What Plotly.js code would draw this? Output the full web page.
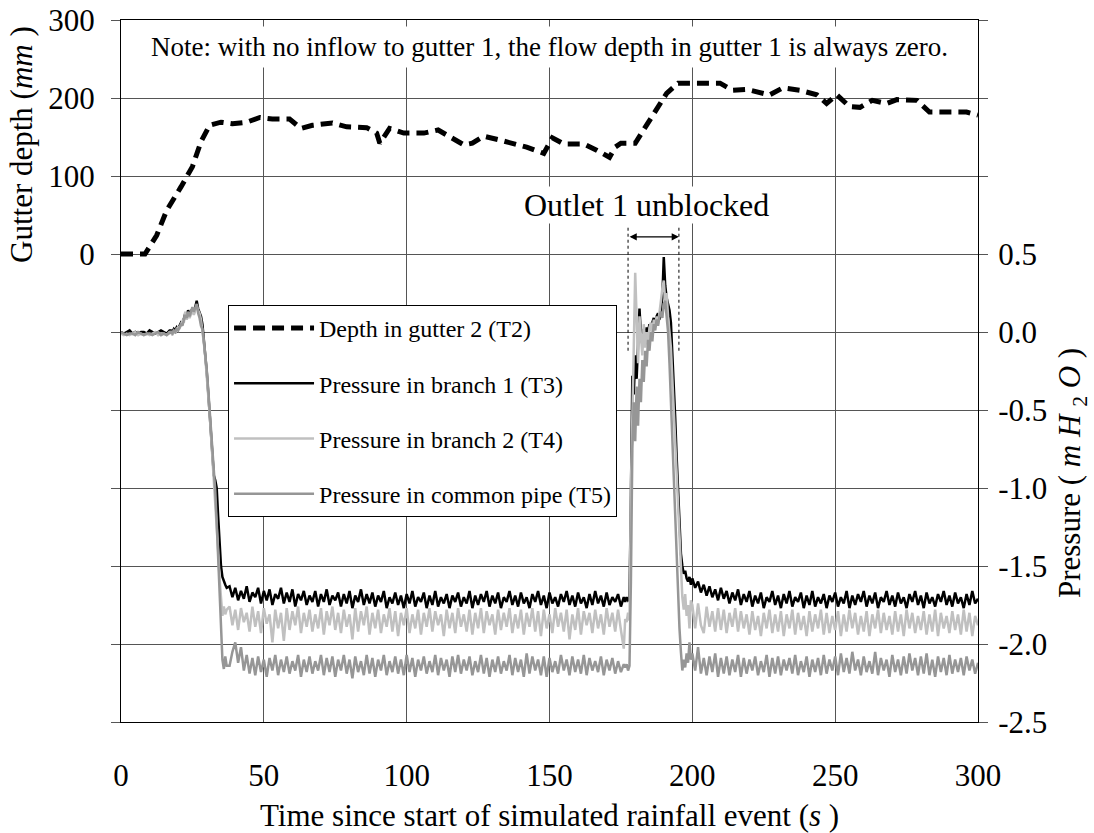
<!DOCTYPE html>
<html>
<head>
<meta charset="utf-8">
<script src="https://cdn.plot.ly/plotly-3.0.1.min.js"></script>
<style>
  html, body { margin: 0; padding: 0; background: #ffffff; }
  #chart { width: 1094px; height: 833px; }
</style>
</head>
<body>
<div id="chart"></div>
<script>
// ---------------- DATA ----------------
// Depth in gutter 2 (T2), mm
const depthTime = [0,8.4,12.5,16,21,25,28,31,35,39,44,48.6,53,59,63,67,74,79,86,89.5,
  90.6,94,99,106,111,115,120,123,127,132.7,137,142,148,151,155,162,166.5,171,173,175,
  180,183.5,187.5,191,195,200,209.7,214,219,227,231.7,237.6,243.6,247,250.6,255,258.7,263,268,271.6,
  278.6,283,289,296,300];
const depthT2 = [0,0,24,56,86,112,144,165,169,167,169,175,173,173,161,165,168,163,162,155,
  142,161,155,155,159,150,140,142,151,146,142,137,129,149,141,141,133,124,137,142,
  142,163,185,206,219,219,219,210,211,204,213,210,204,193,204,189,188,197,193,198,
  197,182,182,182,178];

// Time of pressure readings, s
const pressTime = [
  0,1,2,3,4,5,6,7,8,9,10,11,12,13,14,15,16,17,
  17.5,18,18.5,19,19.5,20,20.5,21,21.5,22,22.5,23,23.5,24,24.5,25,25.5,26,26.5,27,
  27.5,28,28.5,29,29.5,30,30.5,31,31.5,32,32.5,33,33.5,34,34.5,35,35.5,36,36.5,37,
  38,39,40,41,42,43,44,45,46,47,
  48,49,50,51,52,53,54,55,56,57,
  58,59,60,61,62,63,64,65,66,67,
  68,69,70,71,72,73,74,75,76,77,
  78,79,80,81,82,83,84,85,86,87,
  88,89,90,91,92,93,94,95,96,97,
  98,99,100,101,102,103,104,105,106,107,
  108,109,110,111,112,113,114,115,116,117,
  118,119,120,121,122,123,124,125,126,127,
  128,129,130,131,132,133,134,135,136,137,
  138,139,140,141,142,143,144,145,146,147,
  148,149,150,151,152,153,154,155,156,157,
  158,159,160,161,162,163,164,165,166,167,
  168,169,170,171,172,173,174,175,176,
  176.5,177,177.5,178,178.5,179,179.5,180,180.5,181,181.5,182,182.5,183,183.5,184,
  184.5,185,185.5,186,186.5,187,187.5,188,188.5,189,189.5,190,190.5,191,191.5,192,
  192.5,193,193.5,194,194.5,195,195.5,196,196.5,197,197.5,198,198.5,199,199.5,
  200,201,202,203,204,205,206,207,208,209,
  210,211,212,213,214,215,216,217,218,219,
  220,221,222,223,224,225,226,227,228,229,
  230,231,232,233,234,235,236,237,238,239,
  240,241,242,243,244,245,246,247,248,249,
  250,251,252,253,254,255,256,257,258,259,
  260,261,262,263,264,265,266,267,268,269,
  270,271,272,273,274,275,276,277,278,279,
  280,281,282,283,284,285,286,287,288,289,
  290,291,292,293,294,295,296,297,298,299,
  300];

// Pressure in branch 1 (T3), m H2O
const pressT3 = [
  0.00,-0.01,0.00,0.01,-0.01,0.00,-0.01,0.00,0.00,-0.01,0.01,0.00,-0.01,0.00,0.01,0.00,-0.01,0.01,
  0.01,0.00,0.02,0.01,0.03,0.02,0.04,0.06,0.05,0.09,0.12,0.10,0.14,0.11,0.13,0.15,0.12,0.17,0.20,0.15,
  0.13,0.10,0.05,-0.04,-0.12,-0.25,-0.38,-0.52,-0.66,-0.80,-0.92,-0.95,-1.00,-1.18,-1.38,-1.50,-1.57,-1.60,-1.62,-1.64,
  -1.63,-1.70,-1.64,-1.72,-1.66,-1.71,-1.63,-1.73,-1.67,-1.70,
  -1.64,-1.74,-1.66,-1.72,-1.65,-1.75,-1.68,-1.71,-1.64,-1.74,
  -1.67,-1.73,-1.65,-1.76,-1.68,-1.72,-1.66,-1.75,-1.69,-1.73,
  -1.66,-1.76,-1.68,-1.73,-1.65,-1.75,-1.69,-1.72,-1.67,-1.76,
  -1.68,-1.74,-1.66,-1.77,-1.69,-1.73,-1.65,-1.75,-1.68,-1.74,
  -1.67,-1.76,-1.69,-1.73,-1.66,-1.77,-1.70,-1.74,-1.67,-1.75,
  -1.69,-1.77,-1.68,-1.74,-1.66,-1.76,-1.70,-1.73,-1.67,-1.77,
  -1.69,-1.75,-1.66,-1.76,-1.70,-1.74,-1.68,-1.77,-1.69,-1.73,
  -1.67,-1.76,-1.70,-1.74,-1.66,-1.77,-1.69,-1.75,-1.68,-1.73,
  -1.66,-1.76,-1.69,-1.74,-1.67,-1.77,-1.70,-1.73,-1.66,-1.75,
  -1.69,-1.76,-1.67,-1.74,-1.70,-1.77,-1.68,-1.73,-1.66,-1.75,
  -1.69,-1.77,-1.67,-1.74,-1.70,-1.76,-1.68,-1.73,-1.66,-1.75,
  -1.69,-1.76,-1.67,-1.74,-1.70,-1.77,-1.68,-1.75,-1.66,-1.74,
  -1.69,-1.76,-1.67,-1.75,-1.70,-1.73,-1.68,-1.76,-1.70,
  -1.73,-1.70,-1.72,-1.71,-1.05,-0.28,-0.40,-0.15,-0.30,-0.05,0.15,-0.02,-0.08,0.02,-0.04,0.03,
  0.00,0.05,0.01,0.06,0.09,0.04,0.10,0.12,0.08,0.15,0.22,0.48,0.30,0.22,0.18,0.14,
  0.06,-0.12,-0.32,-0.55,-0.80,-1.05,-1.25,-1.42,-1.50,-1.55,-1.53,-1.58,-1.60,-1.57,-1.62,
  -1.58,-1.64,-1.60,-1.67,-1.62,-1.69,-1.63,-1.70,-1.65,-1.72,
  -1.64,-1.71,-1.66,-1.74,-1.67,-1.72,-1.65,-1.75,-1.68,-1.73,
  -1.66,-1.76,-1.69,-1.74,-1.67,-1.77,-1.70,-1.73,-1.66,-1.75,
  -1.69,-1.77,-1.68,-1.74,-1.66,-1.76,-1.70,-1.73,-1.67,-1.77,
  -1.69,-1.75,-1.66,-1.76,-1.70,-1.74,-1.68,-1.77,-1.69,-1.73,
  -1.67,-1.76,-1.70,-1.74,-1.66,-1.77,-1.69,-1.75,-1.68,-1.73,
  -1.66,-1.76,-1.69,-1.74,-1.67,-1.77,-1.70,-1.73,-1.66,-1.75,
  -1.69,-1.76,-1.67,-1.74,-1.70,-1.77,-1.68,-1.73,-1.66,-1.75,
  -1.69,-1.77,-1.67,-1.74,-1.70,-1.76,-1.68,-1.73,-1.66,-1.75,
  -1.69,-1.76,-1.67,-1.74,-1.70,-1.77,-1.68,-1.75,-1.66,-1.74,
  -1.71];

// Pressure in branch 2 (T4), m H2O
const pressT4 = [
  -0.01,-0.02,-0.01,-0.02,-0.01,0.00,-0.02,-0.01,-0.02,-0.01,-0.02,-0.01,0.00,-0.02,-0.01,-0.01,-0.02,0.00,
  0.00,-0.02,0.01,-0.01,0.02,0.03,0.02,0.05,0.07,0.06,0.13,0.08,0.11,0.09,0.12,0.14,0.11,0.15,0.17,0.14,
  0.12,0.08,0.02,-0.07,-0.16,-0.27,-0.39,-0.52,-0.66,-0.80,-0.94,-1.06,-1.22,-1.40,-1.58,-1.72,-1.82,-1.76,-1.81,-1.78,
  -1.76,-1.88,-1.78,-1.91,-1.77,-1.86,-1.80,-1.92,-1.76,-1.89,
  -1.79,-1.93,-1.77,-1.87,-1.81,-1.99,-1.78,-1.90,-1.80,-1.98,
  -1.77,-1.91,-1.79,-1.88,-1.76,-1.93,-1.80,-1.89,-1.78,-1.92,
  -1.81,-1.90,-1.77,-1.94,-1.79,-1.88,-1.76,-1.91,-1.80,-1.93,
  -1.78,-1.89,-1.81,-1.97,-1.77,-1.92,-1.79,-1.88,-1.76,-1.94,
  -1.80,-1.90,-1.78,-1.93,-1.81,-1.89,-1.77,-1.92,-1.79,-1.95,
  -1.80,-1.88,-1.77,-1.93,-1.81,-1.90,-1.78,-1.94,-1.80,-1.89,
  -1.77,-1.92,-1.79,-1.88,-1.81,-1.95,-1.78,-1.90,-1.80,-1.93,
  -1.77,-1.89,-1.81,-1.92,-1.78,-1.94,-1.80,-1.90,-1.77,-1.93,
  -1.79,-1.88,-1.81,-1.94,-1.78,-1.91,-1.80,-1.89,-1.77,-1.93,
  -1.81,-1.90,-1.78,-1.94,-1.80,-1.89,-1.77,-1.92,-1.79,-1.95,
  -1.78,-1.90,-1.81,-1.93,-1.77,-1.89,-1.80,-1.92,-1.78,-1.97,
  -1.81,-1.91,-1.77,-1.94,-1.79,-1.88,-1.80,-1.93,-1.78,-1.90,
  -1.81,-1.94,-1.77,-1.89,-1.80,-1.92,-1.78,-1.91,-2.03,
  -1.84,-1.86,-1.80,-1.85,-1.00,-0.40,-0.10,0.38,0.05,-0.20,0.10,-0.05,-0.15,0.05,-0.10,0.00,
  -0.08,0.03,0.06,-0.02,0.08,0.04,0.10,0.05,0.15,0.20,0.28,0.33,0.20,0.25,0.10,0.02,
  -0.10,-0.30,-0.50,-0.75,-1.00,-1.20,-1.40,-1.55,-1.70,-1.78,-1.68,-1.82,-1.75,-1.90,-1.72,
  -1.75,-1.90,-1.74,-1.88,-1.93,-1.76,-1.89,-1.79,-1.92,-1.77,
  -1.91,-1.78,-1.93,-1.80,-1.89,-1.77,-1.92,-1.79,-1.90,-1.81,
  -1.94,-1.79,-1.91,-1.82,-1.95,-1.80,-1.90,-1.78,-1.93,-1.81,
  -1.92,-1.79,-1.95,-1.81,-1.90,-1.78,-1.94,-1.80,-1.91,-1.82,
  -1.95,-1.79,-1.92,-1.81,-1.90,-1.78,-1.94,-1.80,-1.93,-1.82,
  -1.91,-1.79,-1.95,-1.81,-1.92,-1.78,-1.90,-1.80,-1.94,-1.82,
  -1.92,-1.79,-1.95,-1.81,-1.90,-1.78,-1.93,-1.80,-1.91,-1.82,
  -1.94,-1.79,-1.92,-1.81,-1.95,-1.78,-1.90,-1.80,-1.93,-1.82,
  -1.91,-1.79,-1.94,-1.81,-1.92,-1.78,-1.95,-1.80,-1.90,-1.82,
  -1.93,-1.79,-1.91,-1.81,-1.94,-1.78,-1.92,-1.80,-1.95,-1.82,
  -1.88];

// Pressure in common pipe (T5), m H2O
const pressT5 = [
  0.00,-0.01,-0.02,-0.01,-0.01,-0.02,0.00,-0.01,-0.02,-0.01,-0.01,-0.02,-0.01,0.00,-0.02,-0.01,-0.02,-0.01,
  0.00,-0.01,0.01,0.00,0.02,0.01,0.03,0.05,0.04,0.08,0.11,0.09,0.13,0.10,0.14,0.16,0.13,0.15,0.18,0.12,
  0.09,0.04,0.02,-0.06,-0.14,-0.24,-0.36,-0.48,-0.62,-0.76,-0.90,-1.02,-1.22,-1.45,-1.70,-1.95,-2.10,-2.16,-2.08,-2.14,
  -2.14,-2.05,-1.99,-2.12,-2.02,-2.17,-2.07,-2.19,-2.09,-2.20,
  -2.08,-2.18,-2.10,-2.21,-2.09,-2.17,-2.07,-2.20,-2.10,-2.18,
  -2.08,-2.19,-2.11,-2.17,-2.07,-2.21,-2.10,-2.18,-2.08,-2.19,
  -2.11,-2.17,-2.07,-2.20,-2.09,-2.18,-2.08,-2.21,-2.10,-2.17,
  -2.07,-2.19,-2.10,-2.22,-2.08,-2.18,-2.11,-2.20,-2.07,-2.19,
  -2.09,-2.21,-2.10,-2.17,-2.07,-2.20,-2.11,-2.18,-2.08,-2.19,
  -2.10,-2.20,-2.07,-2.18,-2.09,-2.21,-2.10,-2.17,-2.08,-2.19,
  -2.11,-2.18,-2.07,-2.20,-2.09,-2.17,-2.10,-2.21,-2.08,-2.18,
  -2.07,-2.19,-2.10,-2.17,-2.08,-2.20,-2.11,-2.18,-2.07,-2.19,
  -2.09,-2.21,-2.10,-2.18,-2.08,-2.19,-2.11,-2.17,-2.07,-2.20,
  -2.09,-2.18,-2.10,-2.21,-2.06,-2.19,-2.08,-2.17,-2.10,-2.20,
  -2.08,-2.21,-2.09,-2.18,-2.11,-2.19,-2.07,-2.17,-2.10,-2.20,
  -2.08,-2.18,-2.10,-2.19,-2.07,-2.20,-2.09,-2.17,-2.11,-2.18,
  -2.08,-2.20,-2.10,-2.17,-2.09,-2.19,-2.11,-2.18,-2.13,
  -2.15,-2.13,-2.17,-2.14,-1.60,-0.75,-0.45,-0.70,-0.35,-0.60,-0.30,-0.45,-0.18,-0.32,-0.12,-0.22,
  -0.05,-0.12,0.00,-0.06,0.05,0.01,0.08,0.04,0.10,0.13,0.09,0.18,0.20,0.12,0.00,-0.20,
  -0.45,-0.70,-0.95,-1.20,-1.45,-1.70,-1.90,-2.05,-2.17,-2.10,-2.15,-2.06,-2.12,-1.99,-2.10,
  -2.06,-2.17,-2.02,-2.19,-2.09,-2.20,-2.08,-2.18,-2.06,-2.21,
  -2.09,-2.19,-2.08,-2.20,-2.10,-2.18,-2.07,-2.21,-2.09,-2.19,
  -2.10,-2.17,-2.08,-2.20,-2.11,-2.18,-2.07,-2.21,-2.09,-2.19,
  -2.08,-2.20,-2.10,-2.17,-2.09,-2.19,-2.07,-2.20,-2.11,-2.18,
  -2.08,-2.21,-2.10,-2.18,-2.09,-2.20,-2.07,-2.19,-2.10,-2.17,
  -2.08,-2.20,-2.06,-2.18,-2.09,-2.19,-2.05,-2.17,-2.10,-2.20,
  -2.08,-2.18,-2.11,-2.19,-2.05,-2.20,-2.09,-2.17,-2.10,-2.21,
  -2.07,-2.18,-2.10,-2.20,-2.08,-2.19,-2.06,-2.17,-2.09,-2.20,
  -2.08,-2.19,-2.06,-2.20,-2.10,-2.21,-2.08,-2.18,-2.09,-2.20,
  -2.07,-2.19,-2.10,-2.18,-2.09,-2.20,-2.08,-2.17,-2.10,-2.19,
  -2.12];

// Axis ticks
const timeTicks = [0,50,100,150,200,250,300];
const depthTickVals = [-600,-500,-400,-300,-200,-100,0,100,200,300];
const depthTickText = ['','','','','','','0','100','200','300'];
const pressTickVals = [-2.5,-2.0,-1.5,-1.0,-0.5,0.0,0.5,1.0,1.5,2.0];
const pressTickText = ['-2.5','-2.0','-1.5','-1.0','-0.5','0.0','0.5','','',''];

// Outlet 1 unblocked period, s
const unblockStart = 177.5;
const unblockEnd = 195.3;

// ---------------- CHART ----------------
const FONT = 'Liberation Serif, serif';

const traces = [
  { x: depthTime, y: depthT2, yaxis: 'y', mode: 'lines', name: 'Depth in gutter 2 (T2)',
    legendgroup: 'a', line: { color: '#000000', width: 5, dash: '12px,7px' } },
  { x: pressTime, y: pressT3, yaxis: 'y2', mode: 'lines', name: 'Pressure in branch 1 (T3)',
    legendgroup: 'b', line: { color: '#000000', width: 2.5 } },
  { x: pressTime, y: pressT4, yaxis: 'y2', mode: 'lines', name: 'Pressure in branch 2 (T4)',
    legendgroup: 'c', line: { color: '#c0c0c0', width: 2.5 } },
  { x: pressTime, y: pressT5, yaxis: 'y2', mode: 'lines', name: 'Pressure in common pipe (T5)',
    legendgroup: 'd', line: { color: '#969696', width: 2.5 } }
];

const layout = {
  width: 1094, height: 833,
  margin: { l: 121, r: 116, t: 20, b: 111, pad: 0 },
  paper_bgcolor: '#ffffff', plot_bgcolor: '#ffffff',
  font: { family: FONT, color: '#000000', size: 24 },
  showlegend: true,
  legend: {
    x: 0.1249, y: 0.594, xanchor: 'left', yanchor: 'top',
    bgcolor: '#ffffff', bordercolor: '#000000', borderwidth: 1,
    font: { family: FONT, size: 24, color: '#000000' },
    itemwidth: 80, traceorder: 'grouped', tracegroupgap: 21
  },
  xaxis: {
    range: [0, 300], tickvals: timeTicks, ticks: '', showgrid: true,
    gridcolor: '#555555', gridwidth: 1, zeroline: false,
    showline: true, linecolor: '#000000', linewidth: 1, mirror: true,
    tickfont: { family: FONT, size: 31, color: '#000000' },
    ticklabelstandoff: 26
  },
  yaxis: {
    range: [-600, 300], tickvals: depthTickVals, ticktext: depthTickText,
    ticks: 'outside', ticklen: 9, tickcolor: '#555555', tickwidth: 1,
    showgrid: true, gridcolor: '#555555', gridwidth: 1, zeroline: false,
    showline: true, linecolor: '#000000', linewidth: 1,
    tickfont: { family: FONT, size: 31, color: '#000000' },
    ticklabelstandoff: 10
  },
  yaxis2: {
    range: [-2.5, 2.0], overlaying: 'y', side: 'right',
    tickvals: pressTickVals, ticktext: pressTickText,
    ticks: 'outside', ticklen: 9, tickcolor: '#555555', tickwidth: 1,
    showgrid: false, zeroline: false,
    showline: true, linecolor: '#000000', linewidth: 1,
    tickfont: { family: FONT, size: 31, color: '#000000' },
    ticklabelstandoff: 4
  },
  shapes: [
    { type: 'line', xref: 'x', yref: 'y2', x0: unblockStart, x1: unblockStart, y0: -0.12, y1: 0.67,
      line: { color: '#000000', width: 1, dash: 'dot' } },
    { type: 'line', xref: 'x', yref: 'y2', x0: unblockEnd, x1: unblockEnd, y0: -0.12, y1: 0.67,
      line: { color: '#000000', width: 1, dash: 'dot' } }
  ],
  annotations: [
    { text: 'Note: with no inflow to gutter 1, the flow depth in gutter 1 is always zero.',
      xref: 'paper', yref: 'paper', x: 0.5, y: 0.9615, xanchor: 'center', yanchor: 'middle',
      showarrow: false, bgcolor: '#ffffff', borderpad: 5,
      font: { family: FONT, size: 27, color: '#000000' } },
    { text: 'Outlet 1 unblocked',
      xref: 'x', yref: 'y2', x: 183.8, y: 0.814, xanchor: 'center', yanchor: 'middle',
      showarrow: false, bgcolor: '#ffffff', borderpad: 0,
      font: { family: FONT, size: 32, color: '#000000' } },
    { text: '', xref: 'x', yref: 'y2', x: unblockEnd, y: 0.61,
      axref: 'x', ayref: 'y2', ax: unblockStart, ay: 0.61,
      showarrow: true, arrowhead: 2, arrowside: 'end+start', arrowsize: 1.2, arrowwidth: 1.2,
      arrowcolor: '#000000', standoff: 0, startstandoff: 0 },
    { text: 'Gutter depth (<i>mm</i> )', textangle: -90,
      xref: 'paper', yref: 'paper', x: -0.1155, y: 0.822, xanchor: 'center', yanchor: 'middle',
      showarrow: false, font: { family: FONT, size: 31, color: '#000000' } },
    { text: 'Pressure ( <i>m H</i> <sub>2</sub> <i>O</i> )', textangle: -90,
      xref: 'paper', yref: 'paper', x: 1.1097, y: 0.3547, xanchor: 'center', yanchor: 'middle',
      showarrow: false, font: { family: FONT, size: 31, color: '#000000' } },
    { text: 'Time since start of simulated rainfall event (<i>s</i> )',
      xref: 'paper', yref: 'paper', x: 0.5, y: -0.1325, xanchor: 'center', yanchor: 'middle',
      showarrow: false, font: { family: FONT, size: 31, color: '#000000' } }
  ]
};

Plotly.newPlot('chart', traces, layout, { displayModeBar: false, staticPlot: true });
</script>
</body>
</html>
